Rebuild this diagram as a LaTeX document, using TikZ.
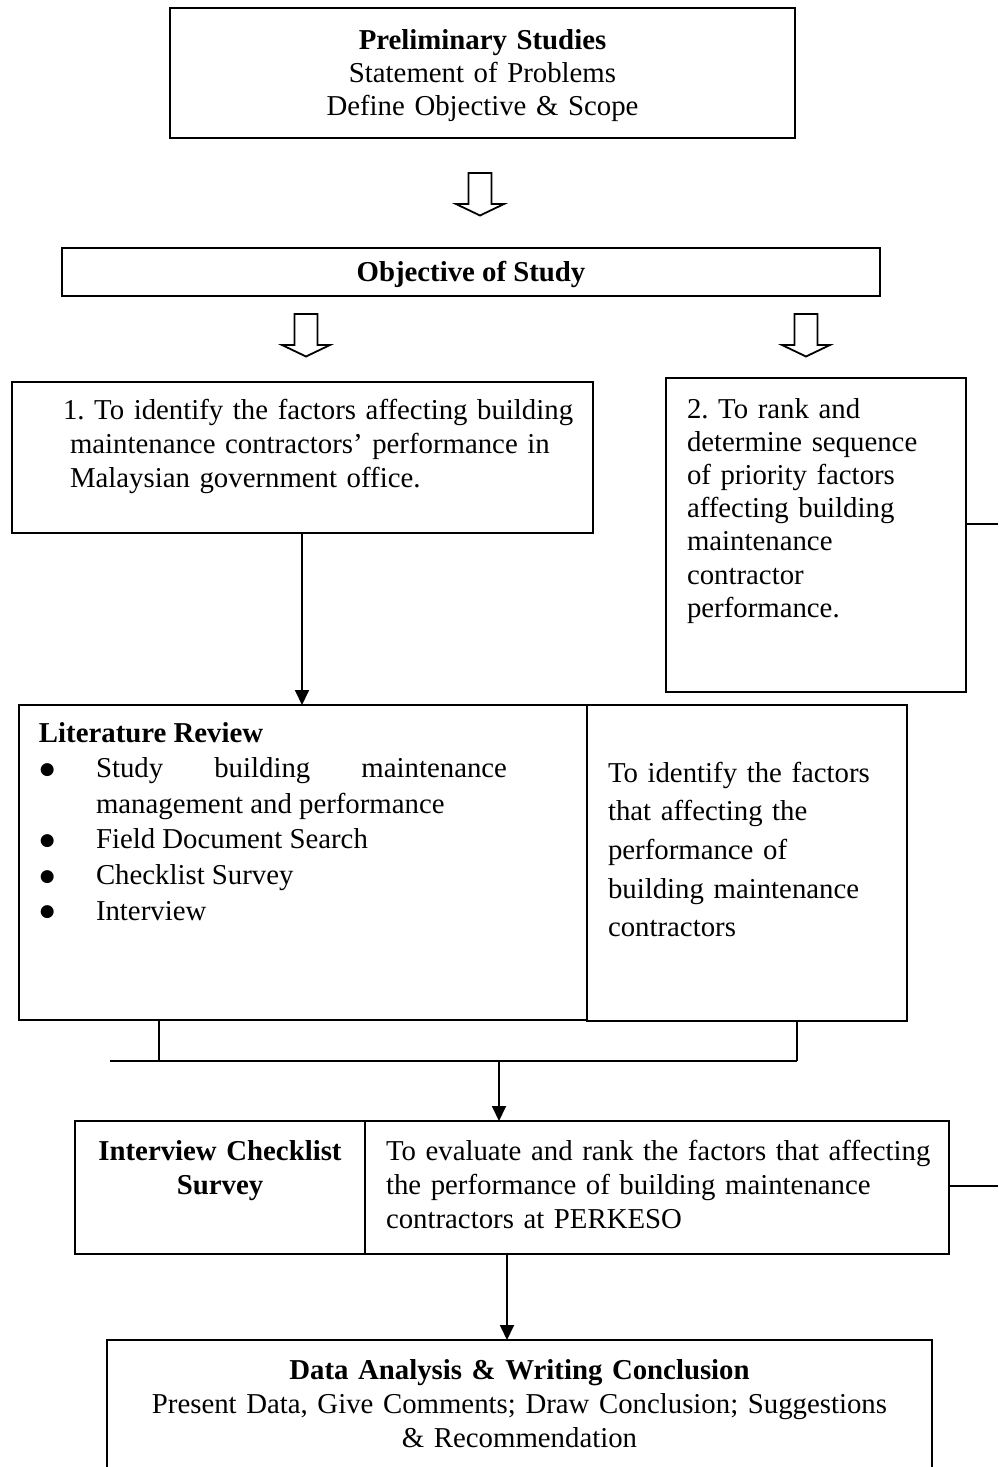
\documentclass[tikz,border=0pt]{standalone}
\usepackage{fontspec}
\setmainfont{Liberation Serif}
\newfontfamily\symfnt{DejaVu Sans}
\usetikzlibrary{arrows.meta}
\frenchspacing
\newcommand\fsA[1]{\fontsize{14.4pt}{#1}\selectfont}
\newcommand\blt{\makebox[28.5pt][l]{\hspace{0.5pt}\raisebox{1.6pt}{\symfnt\fontsize{8.5pt}{8.5pt}\selectfont ●}}}
\begin{document}
\begin{tikzpicture}[x=0.5pt,y=-0.5pt,
  box/.style={draw, line width=0.9pt, anchor=north west, inner sep=0pt, outer sep=0pt},
  txt/.style={inner sep=0pt, outer sep=0pt},
  ln/.style={line width=0.9pt},
  arr/.style={line width=0.9pt, -{Triangle[length=7.5pt,width=7pt]}},
  hollow/.pic={\draw[line width=0.9pt, line join=miter]
     (-11.5,0) -- (11.5,0) -- (11.5,31) -- (24,31) -- (0,42.5) -- (-24,31) -- (-11.5,31) -- cycle;}
]
\clip (0,0) rectangle (998,1467);

% boxes
\node[box, minimum width=312.5pt, minimum height=65pt] (b1) at (170,8) {};
\node[box, minimum width=409pt, minimum height=24pt] (b2) at (62,248) {};
\node[box, minimum width=290.5pt, minimum height=75.5pt] (b3) at (12,382) {};
\node[box, minimum width=150pt, minimum height=157pt] (b4) at (666,378) {};
\node[box, minimum width=284pt, minimum height=157.5pt] (b5) at (19,705) {};
\node[box, minimum width=160pt, minimum height=158pt] (b6) at (587,705) {};
\node[box, minimum width=145pt, minimum height=66.5pt] (b7a) at (75,1121) {};
\node[box, minimum width=292pt, minimum height=66.5pt] (b7b) at (365,1121) {};
\node[box, minimum width=412.5pt, minimum height=85pt] (b8) at (107,1340) {};

% texts
\node[txt, anchor=base, text width=312pt, align=center, font=\fsA{16.6pt}] (t1) at (482.5,49)
  {\textbf{Preliminary Studies}\\Statement of Problems\\Define Objective \& Scope};
\node[txt, anchor=base, font=\fsA{17pt}] (t2) at (471,281) {\textbf{Objective of Study}};
\node[txt, anchor=base west, text width=262pt, align=left, font=\fsA{17pt}] (t3) at (70,419)
  {\hspace*{-3.5pt}1. To identify the factors affecting building\\maintenance contractors’ performance in\\Malaysian government office.};
\node[txt, anchor=base west, text width=140pt, align=left, font=\fsA{16.6pt}] (t4) at (687,418)
  {2. To rank and\\determine sequence\\of priority factors\\affecting building\\maintenance\\contractor\\performance.};
\node[txt, anchor=base west, text width=234pt, align=justify, font=\fsA{17.8pt}] (t5) at (39,742)
  {\hyphenpenalty=10000\exhyphenpenalty=10000\hbadness=10000
   \textbf{Literature Review}\par
   \hangindent=28.5pt\hangafter=1\noindent\blt Study building maintenance management and performance\par
   \hangindent=28.5pt\hangafter=1\noindent\blt Field Document Search\par
   \hangindent=28.5pt\hangafter=1\noindent\blt Checklist Survey\par
   \hangindent=28.5pt\hangafter=1\noindent\blt Interview\par};
\node[txt, anchor=base west, text width=145pt, align=left, font=\fsA{19.35pt}] (t6) at (608,782)
  {To identify the factors\\that affecting the\\performance of\\building maintenance\\contractors};
\node[txt, anchor=base, text width=140pt, align=center, font=\fsA{17pt}] (t7a) at (220,1160)
  {\textbf{Interview Checklist}\\\textbf{Survey}};
\node[txt, anchor=base west, text width=282pt, align=left, font=\fsA{17.2pt}] (t7b) at (386,1160)
  {To evaluate and rank the factors that affecting\\the performance of building maintenance\\contractors at PERKESO};
\node[txt, anchor=base, text width=410pt, align=center, font=\fsA{17pt}] (t8) at (519.5,1379)
  {\textbf{Data Analysis \& Writing Conclusion}\\Present Data, Give Comments; Draw Conclusion; Suggestions\\\& Recommendation};

% hollow arrows
\pic at (480,173) {hollow};
\pic at (306,314) {hollow};
\pic at (806,314) {hollow};

% connectors
\coordinate (x1) at (302,0);
\draw[arr] (b3.south -| x1) -- (b5.north -| x1);

\coordinate (jl) at (110,1061);
\coordinate (tl) at (159,1061);
\coordinate (tr) at (797,1061);
\coordinate (jm) at (499,1061);
\draw[ln] (b5.south -| tl) -- (tl);
\draw[ln] (b6.south -| tr) -- (tr);
\draw[ln] (jl) -- (tr);
\draw[arr] (jm) -- (b7b.north -| jm);

\coordinate (x2) at (507,0);
\draw[arr] (b7b.south -| x2) -- (b8.north -| x2);

\coordinate (e1) at (998,524);
\draw[ln] (b4.east |- e1) -- (e1);
\coordinate (e2) at (998,1186);
\draw[ln] (b7b.east |- e2) -- (e2);
\end{tikzpicture}
\end{document}
